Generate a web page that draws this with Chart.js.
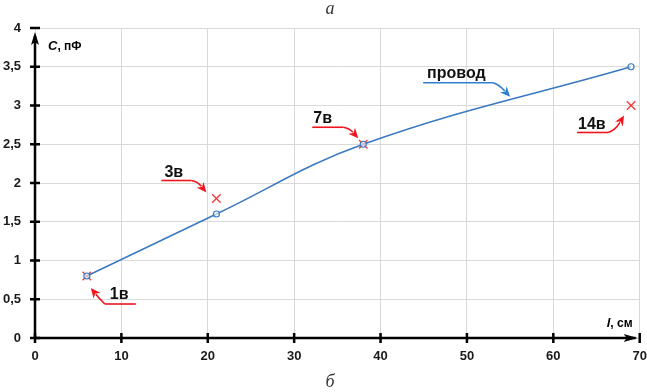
<!DOCTYPE html>
<html lang="ru">
<head>
<meta charset="UTF-8">
<title>C(l)</title>
<script src="https://cdn.jsdelivr.net/npm/chart.js"></script>
<style>
  html, body { margin: 0; padding: 0; background: #fff; }
  #wrap { width: 647px; height: 392px; }
</style>
</head>
<body>
<div id="wrap"><canvas id="chart" width="647" height="392"></canvas></div>
<script>
// wire ("провод") curve
const wireL = [6, 21, 38, 69];
const wireC = [0.8, 1.6, 2.5, 3.5];
// coil measurements (red crosses)
const coilNames = ['1в', '3в', '7в', '14в'];
const coilL = [6, 21, 38, 69];
const coilC = [0.8, 1.8, 2.5, 3.0];
// axis ticks
const xTicks = [0, 10, 20, 30, 40, 50, 60, 70];
const yTicks = ['0', '0,5', '1', '1,5', '2', '2,5', '3', '3,5', '4'];

const tickFont = { family: '"Liberation Sans Narrow", "Liberation Sans", Arial, sans-serif', size: 13, weight: 'bold' };

// callout offsets from the point they refer to (pixels)
// from = which end of the underline the arrow leaves from
const callouts = [
  { i: 0, text: [23, 23], line: [18, 49, 28], from: 0, tip: [4, 12], ctrl: [12, 22] },
  { i: 1, text: [-52, -22], line: [-55, -25, -18], from: 1, tip: [-10, -6], ctrl: [-19, -17] },
  { i: 2, text: [-50, -21], line: [-51, -20, -17], from: 1, tip: [-5, -6], ctrl: [-14, -16] },
  { i: 3, text: [-53, 23], line: [-54, -23, 27], from: 1, tip: [-7, 10], ctrl: [-16, 25] }
];
const red = '#f0141c';
const blue = '#2f7fd0';

function arrow(ctx, x0, y0, cx, cy, x1, y1, color) {
  ctx.save();
  ctx.strokeStyle = color;
  ctx.fillStyle = color;
  ctx.lineWidth = 1.6;
  const a = Math.atan2(y1 - cy, x1 - cx);
  const hl = 10, hw = 4.5;
  const bx = x1 - Math.cos(a) * hl, by = y1 - Math.sin(a) * hl;
  ctx.beginPath();
  ctx.moveTo(x0, y0);
  ctx.quadraticCurveTo(cx, cy, bx + Math.cos(a) * 2, by + Math.sin(a) * 2);
  ctx.stroke();
  ctx.beginPath();
  ctx.moveTo(x1, y1);
  ctx.lineTo(bx - Math.sin(a) * hw, by + Math.cos(a) * hw);
  ctx.lineTo(bx + Math.cos(a) * 3, by + Math.sin(a) * 3);
  ctx.lineTo(bx + Math.sin(a) * hw, by - Math.cos(a) * hw);
  ctx.closePath();
  ctx.fill();
  ctx.restore();
}

const decor = {
  id: 'decor',
  afterDraw(chart) {
    const ctx = chart.ctx;
    const xs = chart.scales.x, ys = chart.scales.y;
    const x0 = xs.getPixelForValue(0), y0 = ys.getPixelForValue(0);
    const xEnd = xs.getPixelForValue(70), yTop = ys.getPixelForValue(4);

    ctx.save();
    ctx.strokeStyle = '#000';
    ctx.fillStyle = '#000';
    ctx.lineWidth = 2.5;
    // axes
    ctx.beginPath();
    ctx.moveTo(x0, y0); ctx.lineTo(xEnd - 4, y0);
    ctx.moveTo(x0, y0); ctx.lineTo(x0, yTop + 8);
    ctx.stroke();
    // arrow heads
    ctx.beginPath();
    ctx.moveTo(xEnd - 2, y0); ctx.lineTo(xEnd - 16, y0 - 4); ctx.lineTo(xEnd - 13, y0); ctx.lineTo(xEnd - 16, y0 + 4);
    ctx.closePath(); ctx.fill();
    ctx.beginPath();
    ctx.moveTo(x0, yTop + 4); ctx.lineTo(x0 - 4, yTop + 17); ctx.lineTo(x0, yTop + 14); ctx.lineTo(x0 + 4, yTop + 17);
    ctx.closePath(); ctx.fill();
    // tick marks
    ctx.beginPath();
    xTicks.forEach(v => {
      const p = xs.getPixelForValue(v);
      ctx.moveTo(p, y0 - 5); ctx.lineTo(p, y0 + 5);
    });
    yTicks.forEach((t, k) => {
      const p = ys.getPixelForValue(k * 0.5);
      ctx.moveTo(x0 - 5, p); ctx.lineTo(x0 + 5, p);
    });
    ctx.stroke();

    // axis titles
    ctx.textBaseline = 'alphabetic';
    ctx.font = 'italic bold 13px "Liberation Sans", Arial, sans-serif';
    ctx.fillText('C', x0 + 13, yTop + 22);
    let w = ctx.measureText('C').width;
    ctx.font = 'bold 12px "Liberation Sans", Arial, sans-serif';
    ctx.fillText(', пФ', x0 + 13 + w, yTop + 22);

    ctx.font = 'italic bold 13px "Liberation Sans", Arial, sans-serif';
    const lx = xEnd - 33;
    ctx.fillText('l', lx, y0 - 11);
    w = ctx.measureText('l').width;
    ctx.font = 'bold 12px "Liberation Sans", Arial, sans-serif';
    ctx.fillText(', см', lx + w, y0 - 11);

    // captions
    ctx.fillStyle = '#333';
    ctx.font = 'italic 18px "Liberation Serif", "DejaVu Serif", serif';
    ctx.textAlign = 'center';
    ctx.fillText('а', 330, 14);
    ctx.fillText('б', 330, 387);
    ctx.textAlign = 'left';

    // callouts for coils
    ctx.font = 'bold 16px "Liberation Sans", Arial, sans-serif';
    callouts.forEach(c => {
      const px = xs.getPixelForValue(coilL[c.i]);
      const py = ys.getPixelForValue(coilC[c.i]);
      ctx.fillStyle = '#111';
      ctx.fillText(coilNames[c.i], px + c.text[0], py + c.text[1]);
      ctx.strokeStyle = red;
      ctx.lineWidth = 1.6;
      ctx.beginPath();
      ctx.moveTo(px + c.line[0], py + c.line[2]);
      ctx.lineTo(px + c.line[1], py + c.line[2]);
      ctx.stroke();
      const sx = c.line[c.from];
      arrow(ctx, px + sx, py + c.line[2], px + c.ctrl[0], py + c.ctrl[1], px + c.tip[0], py + c.tip[1], red);
    });

    // callout for the wire curve
    const wx = xs.getPixelForValue(55), wy = ys.getPixelForValue(3.1);
    ctx.fillStyle = '#111';
    ctx.fillText('провод', wx - 83, wy - 20);
    ctx.strokeStyle = blue;
    ctx.lineWidth = 1.6;
    ctx.beginPath();
    ctx.moveTo(wx - 87, wy - 15); ctx.lineTo(wx - 17, wy - 15);
    ctx.stroke();
    arrow(ctx, wx - 17, wy - 15, wx - 11, wy - 13, wx, wy - 1, blue);
    ctx.restore();
  }
};

new Chart(document.getElementById('chart'), {
  type: 'scatter',
  data: {
    datasets: [
      {
        label: 'провод',
        data: wireL.map((l, k) => ({ x: l, y: wireC[k] })),
        showLine: true,
        tension: 0.4,
        borderColor: '#3a78c2',
        borderWidth: 1.5,
        pointStyle: 'circle',
        pointRadius: 3,
        pointBorderWidth: 1.2,
        pointBorderColor: '#3a78c2',
        pointBackgroundColor: 'rgba(255,255,255,0.6)'
      },
      {
        label: 'витки',
        data: coilL.map((l, k) => ({ x: l, y: coilC[k] })),
        showLine: false,
        pointStyle: 'crossRot',
        pointRadius: 6,
        pointBorderWidth: 1.3,
        pointBorderColor: '#f23a3a'
      }
    ]
  },
  options: {
    responsive: false,
    animation: false,
    layout: { padding: { left: 0, right: 7, top: 28, bottom: 0 } },
    plugins: { legend: { display: false }, tooltip: { enabled: false } },
    scales: {
      x: {
        type: 'linear',
        min: 0, max: 70,
        afterFit: s => { s.height = 54; s.paddingLeft = 0; s.paddingRight = 0; },
        afterBuildTicks: s => { s.ticks = xTicks.map(v => ({ value: v })); },
        grid: { color: '#d9d9d9', lineWidth: 1, drawTicks: false },
        border: { display: false },
        ticks: { padding: 11, color: '#1a1a1a', font: tickFont, maxRotation: 0, autoSkip: false }
      },
      y: {
        type: 'linear',
        min: 0, max: 4,
        afterFit: s => { s.width = 35; },
        afterBuildTicks: s => { s.ticks = yTicks.map((t, k) => ({ value: k * 0.5 })); },
        grid: { color: '#d9d9d9', lineWidth: 1, drawTicks: false },
        border: { display: false },
        ticks: {
          padding: 14, color: '#1a1a1a', font: tickFont, autoSkip: false,
          callback: (v, k) => yTicks[k]
        }
      }
    }
  },
  plugins: [decor]
});
</script>
</body>
</html>
